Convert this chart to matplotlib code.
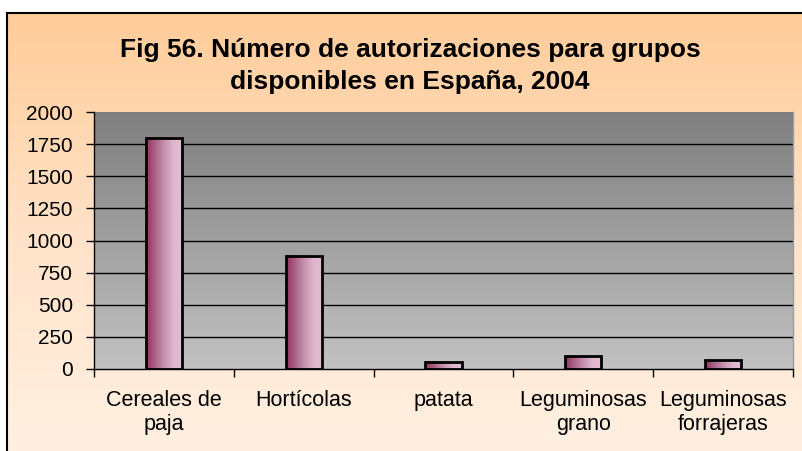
import numpy as np
import matplotlib
matplotlib.use("Agg")
import matplotlib.pyplot as plt
from matplotlib.colors import LinearSegmentedColormap

plt.rcParams['font.family'] = ['Liberation Sans', 'DejaVu Sans']

categories = ["Cereales de\npaja", "Hortícolas", "patata",
              "Leguminosas\ngrano", "Leguminosas\nforrajeras"]
values = [1800, 880, 55, 100, 70]
yticks = [0, 250, 500, 750, 1000, 1250, 1500, 1750, 2000]
title = "Fig 56. Número de autorizaciones para grupos\ndisponibles en España, 2004"

W, H = 802, 451
fig = plt.figure(figsize=(W / 100, H / 100), dpi=100)
fig.patch.set_facecolor("white")

# chart area background: peach vertical gradient with a black frame
bg = fig.add_axes([7 / W, 0, 1 - 7 / W, (H - 13) / H])
peach = LinearSegmentedColormap.from_list("peach", ["#FFCC99", "#FFE2C8", "#FFF0E2"])
bg.imshow(np.linspace(0, 1, 256).reshape(-1, 1), cmap=peach, aspect="auto",
          extent=(0, 1, 0, 1), origin="upper")
bg.set_xlim(0, 1)
bg.set_ylim(0, 1)
bg.set_xticks([])
bg.set_yticks([])
for side in ("right", "bottom"):
    bg.spines[side].set_visible(False)
bg.spines["left"].set_linewidth(1.5)
bg.spines["top"].set_linewidth(1.5)

fig.text(410 / W, 1 - 66 / H, title, ha="center", va="center",
         fontsize=19, fontweight="bold", linespacing=1.45)

ax = fig.add_axes([94 / W, (H - 369) / H, (793 - 94) / W, (369 - 112) / H])
ax.set_xlim(-0.5, len(categories) - 0.5)
ax.set_ylim(0, 2000)

# plot area: grey gradient, darker at the top
grey = LinearSegmentedColormap.from_list("grey", ["#7F7F7F", "#C2C2C2"])
ax.imshow(np.linspace(0, 1, 256).reshape(-1, 1), cmap=grey, aspect="auto",
          extent=(-0.5, len(categories) - 0.5, 0, 2000), origin="upper", zorder=0)

for y in yticks[1:-1]:
    ax.axhline(y, color="black", linewidth=1, zorder=1)

# bars with a horizontal magenta-to-pink gradient
bar_cmap = LinearSegmentedColormap.from_list(
    "bar", [(0, "#93325F"), (0.45, "#C08AA8"), (0.75, "#DFB7CC"), (1, "#E3BDD2")])
grad = np.linspace(0, 1, 128).reshape(1, -1)
width = 0.26
for i, v in enumerate(values):
    ax.imshow(grad, cmap=bar_cmap, aspect="auto",
              extent=(i - width / 2, i + width / 2, 0, v), zorder=2)
    ax.bar(i, v, width=width, facecolor="none", edgecolor="black",
           linewidth=2, zorder=3)

ax.set_xticks(range(len(categories)))
ax.set_xticklabels(categories, fontsize=15.5, linespacing=1.2)
ax.tick_params(axis="x", which="major", length=0, pad=15)
ax.set_xticks(np.arange(-0.5, len(categories)), minor=True)
ax.tick_params(axis="x", which="minor", length=6, width=1, direction="out")

ax.set_yticks(yticks)
ax.set_yticklabels([str(t) for t in yticks], fontsize=15)
ax.tick_params(axis="y", length=6, width=1, direction="out", pad=9)

ax.spines["left"].set_linewidth(1)
ax.spines["bottom"].set_linewidth(1)
ax.spines["top"].set_visible(False)
ax.spines["right"].set_color("#9A9A9A")
ax.spines["right"].set_linewidth(1)

fig.savefig("out.png", dpi=100, facecolor=fig.get_facecolor())
